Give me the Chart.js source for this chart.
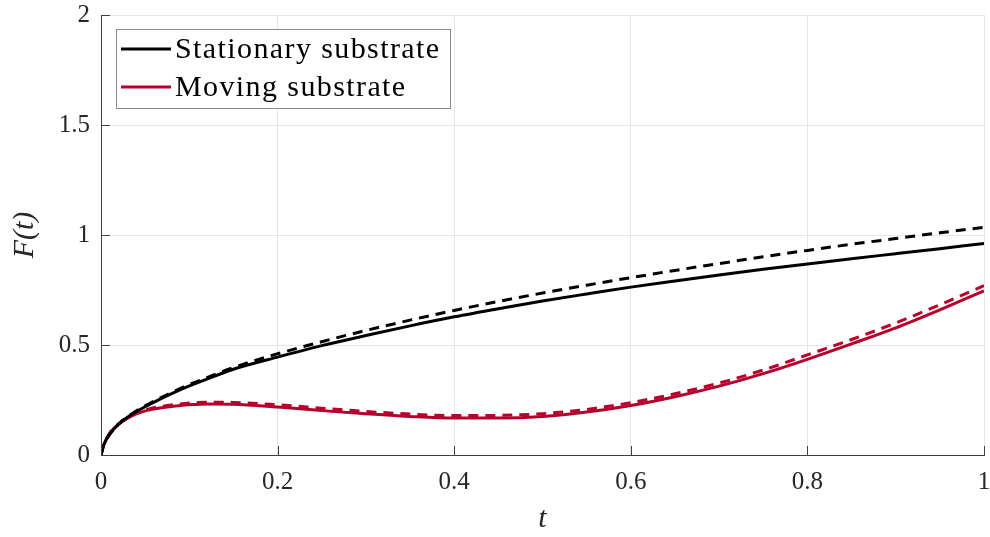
<!DOCTYPE html>
<html>
<head>
<meta charset="utf-8">
<script src="https://cdn.jsdelivr.net/npm/chart.js@4"></script>
<style>
  html, body { margin: 0; padding: 0; background: #fff; }
  #wrap { width: 990px; height: 537px; }
</style>
</head>
<body>
<div id="wrap"><canvas id="myChart" width="990" height="537"></canvas></div>
<script>
// shared time samples
var tVals = [0, 0.003, 0.01, 0.02, 0.035, 0.055, 0.09, 0.12, 0.15, 0.2, 0.25, 0.3, 0.35, 0.4,
             0.45, 0.5, 0.55, 0.6, 0.65, 0.7, 0.75, 0.8, 0.85, 0.9, 0.95, 1.0];

var stationary = [0, 0.045, 0.095, 0.14, 0.185, 0.23, 0.297, 0.345, 0.39, 0.445, 0.497, 0.543, 0.587, 0.628,
                  0.665, 0.70, 0.732, 0.763, 0.791, 0.818, 0.844, 0.868, 0.892, 0.915, 0.938, 0.961];
var stationaryDash = [0, 0.045, 0.095, 0.141, 0.188, 0.234, 0.303, 0.352, 0.398, 0.46, 0.515, 0.566, 0.613, 0.657,
                      0.698, 0.736, 0.772, 0.806, 0.839, 0.87, 0.901, 0.93, 0.958, 0.984, 1.01, 1.035];
var moving = [0, 0.044, 0.099, 0.14, 0.178, 0.205, 0.225, 0.232, 0.231, 0.218, 0.202, 0.187, 0.175, 0.168,
              0.168, 0.175, 0.195, 0.225, 0.265, 0.313, 0.37, 0.435, 0.505, 0.578, 0.66, 0.746];
var movingDash = [0, 0.045, 0.1, 0.142, 0.182, 0.21, 0.232, 0.24, 0.239, 0.228, 0.213, 0.198, 0.186, 0.179,
                  0.18, 0.188, 0.207, 0.238, 0.278, 0.327, 0.386, 0.455, 0.525, 0.6, 0.683, 0.77];

var xTicks = [0, 0.2, 0.4, 0.6, 0.8, 1];
var yTicks = [0, 0.5, 1, 1.5, 2];
var legendLabels = ["Stationary substrate", "Moving substrate"];

var black = "#000000";
var red = "#b7002b";
var serif = "'Liberation Serif', 'DejaVu Serif', serif";

function pts(ys){
  var out = [];
  for (var i = 0; i < tVals.length; i++) out.push({x: tVals[i], y: ys[i]});
  return out;
}

// draws the inward ticks and the framed legend like the original figure
var extras = {
  id: "extras",
  afterDraw: function(chart){
    var ctx = chart.ctx;
    var a = chart.chartArea;
    var xs = chart.scales.x, ys = chart.scales.y;
    ctx.save();
    ctx.strokeStyle = "#404040";
    ctx.lineWidth = 1;
    ctx.beginPath();
    xTicks.forEach(function(v){
      var px = Math.round(xs.getPixelForValue(v)) + 0.5;
      ctx.moveTo(px, a.bottom); ctx.lineTo(px, a.bottom - 9);
    });
    yTicks.forEach(function(v){
      var py = Math.round(ys.getPixelForValue(v)) + 0.5;
      ctx.moveTo(a.left, py); ctx.lineTo(a.left + 9, py);
    });
    ctx.stroke();

    // legend box
    var bx = 116.5, by = 29.5, bw = 334, bh = 79;
    ctx.fillStyle = "#fff";
    ctx.fillRect(bx, by, bw, bh);
    ctx.strokeStyle = "#8c8c8c";
    ctx.strokeRect(bx, by, bw, bh);
    var cols = [black, red];
    var rows = [49, 87];
    ctx.font = "30px " + serif;
    if ("letterSpacing" in ctx) ctx.letterSpacing = "1.4px";
    ctx.textBaseline = "middle";
    for (var i = 0; i < 2; i++){
      ctx.strokeStyle = cols[i];
      ctx.lineWidth = 3;
      ctx.beginPath();
      ctx.moveTo(121, rows[i]); ctx.lineTo(171, rows[i]);
      ctx.stroke();
      ctx.fillStyle = "#000";
      ctx.fillText(legendLabels[i], 175, rows[i] + 1);
    }
    ctx.restore();
  }
};

new Chart("myChart", {
  type: "line",
  data: {
    datasets: [{
      label: "Stationary substrate",
      data: pts(stationary),
      borderColor: black,
      borderWidth: 3
    }, {
      label: "Stationary dashed",
      data: pts(stationaryDash),
      borderColor: black,
      borderWidth: 3,
      borderDash: [10, 7]
    }, {
      label: "Moving substrate",
      data: pts(moving),
      borderColor: red,
      borderWidth: 3
    }, {
      label: "Moving dashed",
      data: pts(movingDash),
      borderColor: red,
      borderWidth: 3,
      borderDash: [10, 7]
    }]
  },
  options: {
    responsive: false,
    animation: false,
    events: [],
    elements: {
      point: { radius: 0 },
      line: { cubicInterpolationMode: "monotone", fill: false }
    },
    layout: { padding: { top: 15, right: 6, left: 0, bottom: 0 } },
    plugins: {
      legend: { display: false },
      tooltip: { enabled: false }
    },
    scales: {
      x: {
        type: "linear",
        min: 0, max: 1,
        afterBuildTicks: function(s){ s.ticks = xTicks.map(function(v){ return {value: v}; }); },
        afterFit: function(s){ s.height = 82; s.paddingLeft = 0; s.paddingRight = 0; },
        grid: { color: "#e6e6e6", drawTicks: false },
        border: { color: "#404040", width: 1 },
        ticks: {
          padding: 12,
          color: "#262626",
          font: { family: serif, size: 25 },
          maxRotation: 0,
          callback: function(v){ return String(v); }
        },
        title: {
          display: true,
          text: "t",
          color: "#262626",
          font: { family: serif, size: 30, style: "italic" },
          padding: { top: 18, bottom: 0 }
        }
      },
      y: {
        min: 0, max: 2,
        afterBuildTicks: function(s){ s.ticks = yTicks.map(function(v){ return {value: v}; }); },
        afterFit: function(s){ s.width = 101; s.paddingTop = 0; s.paddingBottom = 0; },
        grid: { color: "#e6e6e6", drawTicks: false },
        border: { color: "#404040", width: 1 },
        ticks: {
          padding: 11,
          color: "#262626",
          font: { family: serif, size: 25 },
          callback: function(v){ return String(v); }
        },
        title: {
          display: true,
          text: "F(t)",
          color: "#262626",
          font: { family: serif, size: 30, style: "italic" },
          padding: { top: 7, bottom: 10 }
        }
      }
    }
  },
  plugins: [extras]
});
</script>
</body>
</html>
